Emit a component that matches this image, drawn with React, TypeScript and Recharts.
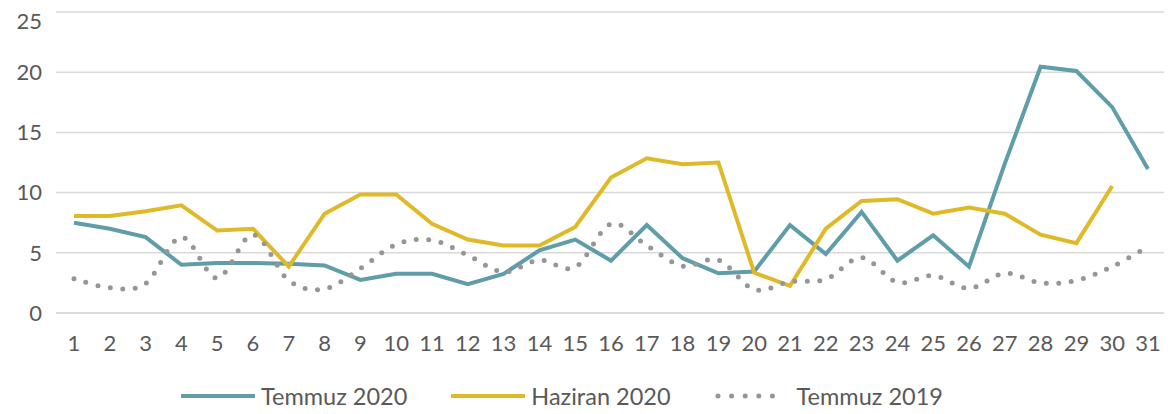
import React from "react";
import { LineChart, Line, XAxis, YAxis, CartesianGrid, Legend } from "recharts";

const days = Array.from({ length: 31 }, (_, i) => String(i + 1));
const temmuz2020 = [7.5, 7.0, 6.3, 4.0, 4.15, 4.15, 4.1, 3.95, 2.75, 3.25, 3.25, 2.4, 3.25, 5.2, 6.1, 4.35, 7.3, 4.55, 3.3, 3.45, 7.3, 4.9, 8.4, 4.35, 6.45, 3.85, 12.4, 20.45, 20.1, 17.1, 11.95];
const haziran2020: (number | null)[] = [8.05, 8.05, 8.45, 8.95, 6.85, 7.0, 3.85, 8.25, 9.85, 9.85, 7.4, 6.1, 5.6, 5.6, 7.15, 11.25, 12.85, 12.35, 12.5, 3.35, 2.25, 7.0, 9.3, 9.45, 8.25, 8.75, 8.25, 6.5, 5.8, 10.55, null];
const temmuz2019 = [2.85, 2.1, 2.45, 6.3, 2.9, 6.5, 2.7, 2.0, 3.7, 5.7, 6.05, 4.8, 3.4, 4.4, 3.8, 7.4, 5.6, 3.9, 4.4, 1.95, 2.6, 2.8, 4.6, 2.55, 3.1, 2.05, 3.3, 2.5, 2.7, 3.85, 5.5];
const yTicks = [0, 5, 10, 15, 20, 25];
const seriesNames = ["Temmuz 2020", "Haziran 2020", "Temmuz 2019"];

const data = days.map((d, i) => ({
  day: d,
  t20: temmuz2020[i],
  h20: haziran2020[i],
  t19: temmuz2019[i],
}));

const FONT = "Lato, 'Open Sans', sans-serif";
const TEXT = "#595959";
const TEAL = "#5F9DA8";
const YELLOW = "#DFB927";
const GRAY = "#969696";

// Catmull-Rom style smoothing similar to spreadsheet smoothed lines
function smoothCurve(context: any) {
  let pts: [number, number][] = [];
  return {
    areaStart() {},
    areaEnd() {},
    lineStart() {
      pts = [];
    },
    point(x: number, y: number) {
      pts.push([+x, +y]);
    },
    lineEnd() {
      if (!pts.length) return;
      context.moveTo(pts[0][0], pts[0][1]);
      for (let i = 0; i < pts.length - 1; i++) {
        const p0 = pts[i - 1] || pts[i];
        const p1 = pts[i];
        const p2 = pts[i + 1];
        const p3 = pts[i + 2] || p2;
        const c1x = p1[0] + (p2[0] - p0[0]) / 6;
        const c1y = p1[1] + (p2[1] - p0[1]) / 6;
        const c2x = p2[0] - (p3[0] - p1[0]) / 6;
        const c2y = p2[1] - (p3[1] - p1[1]) / 6;
        context.bezierCurveTo(c1x, c1y, c2x, c2y, p2[0], p2[1]);
      }
    },
  };
}

const legendItems = [
  { name: seriesNames[0], color: TEAL, dotted: false },
  { name: seriesNames[1], color: YELLOW, dotted: false },
  { name: seriesNames[2], color: GRAY, dotted: true },
];

const renderLegend = () => (
  <div style={{ display: "flex", justifyContent: "flex-start", paddingLeft: 173, paddingTop: 23, fontFamily: FONT, fontSize: 23.5, color: TEXT, lineHeight: "28px" }}>
    {legendItems.map((it, idx) => (
      <div key={it.name} style={{ display: "flex", alignItems: "center", marginRight: idx < 2 ? 44 : 0 }}>
        <svg width={74} height={10} style={{ marginRight: it.dotted ? 8 : 6 }}>
          {it.dotted ? (
            <line x1={3} y1={5} x2={71} y2={5} stroke={it.color} strokeWidth={5} strokeDasharray="0 13.6" strokeLinecap="round" />
          ) : (
            <line x1={1} y1={5} x2={73} y2={5} stroke={it.color} strokeWidth={4} strokeLinecap="round" />
          )}
        </svg>
        <span>{it.name}</span>
      </div>
    ))}
  </div>
);

export default function App() {
  return (
    <LineChart width={1164} height={406} data={data} margin={{ top: 4, right: 6, left: 0, bottom: 0 }}>
      <CartesianGrid vertical={false} stroke="#D9D9D9" strokeWidth={1.5} />
      <XAxis
        dataKey="day"
        height={46}
        padding={{ left: 18, right: 18 }}
        tickLine={false}
        axisLine={{ stroke: "#D9D9D9", strokeWidth: 1.5 }}
        tick={{ fill: TEXT, fontSize: 22, fontFamily: FONT }}
        tickMargin={16}
        interval={0}
      />
      <YAxis
        width={48}
        domain={[0, 25]}
        ticks={yTicks}
        tickLine={false}
        axisLine={false}
        tick={{ fill: TEXT, fontSize: 22, fontFamily: FONT }}
        tickMargin={8}
      />
      <Legend verticalAlign="bottom" height={55} content={renderLegend} />
      <Line dataKey="t20" name={seriesNames[0]} stroke={TEAL} strokeWidth={4} dot={false} type="linear" isAnimationActive={false} />
      <Line dataKey="h20" name={seriesNames[1]} stroke={YELLOW} strokeWidth={4} dot={false} type="linear" isAnimationActive={false} />
      <Line dataKey="t19" name={seriesNames[2]} stroke={GRAY} strokeWidth={5} strokeDasharray="0 12.5" strokeLinecap="round" dot={false} type={smoothCurve as any} isAnimationActive={false} />
    </LineChart>
  );
}
